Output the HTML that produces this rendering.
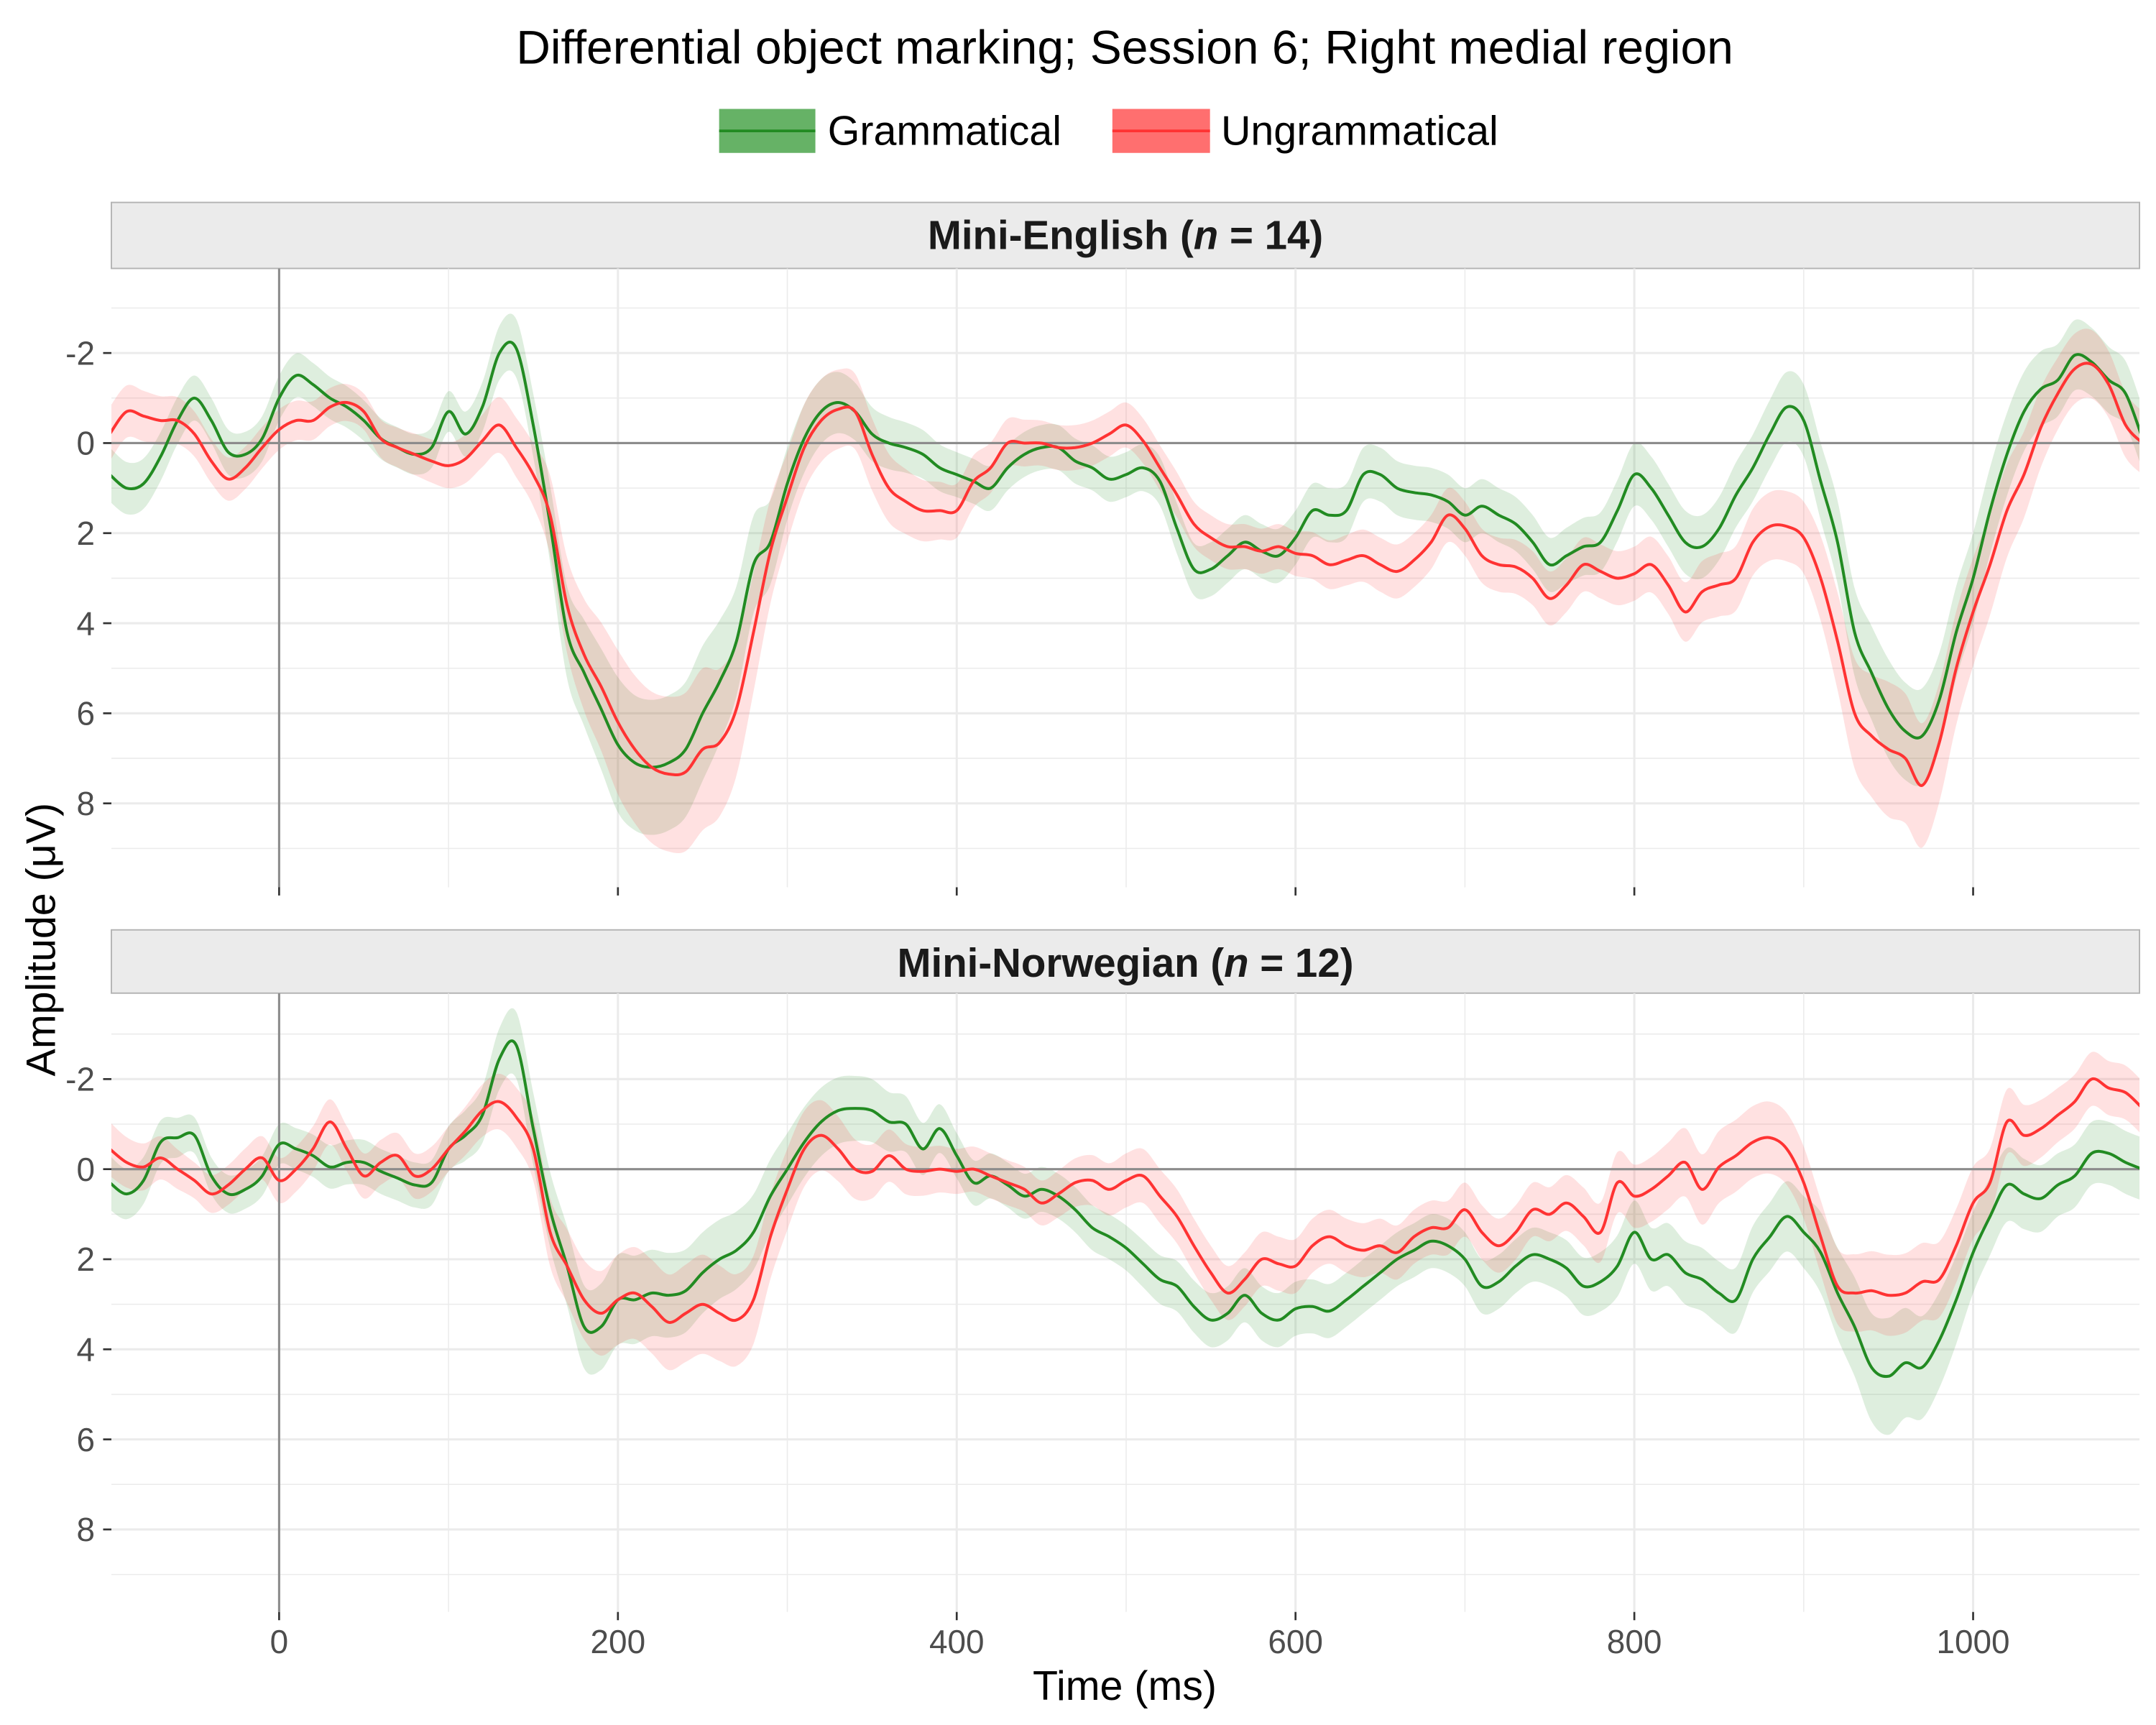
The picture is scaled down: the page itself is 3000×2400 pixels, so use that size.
<!DOCTYPE html>
<html><head><meta charset="utf-8"><style>
html,body{margin:0;padding:0;background:#fff;}
svg{display:block;font-family:"Liberation Sans",Arial,sans-serif;}
</style></head><body>
<svg id="chart" width="3000" height="2400" viewBox="0 0 1568 1254" xmlns="http://www.w3.org/2000/svg">
<text x="818" y="46" font-size="34.5" text-anchor="middle" fill="#000">Differential object marking; Session 6; Right medial region</text>
<g>
 <g>
  <rect x="523" y="79" width="70" height="32" fill="#66b266"/>
  <line x1="523" y1="95" x2="593" y2="95" stroke="#228b22" stroke-width="2"/>
  <text x="602" y="105" font-size="30" fill="#000">Grammatical</text>
 </g>
 <g>
  <rect x="809" y="79" width="71" height="32" fill="#ff6f6f"/>
  <line x1="809" y1="95" x2="880" y2="95" stroke="#ff3333" stroke-width="2"/>
  <text x="888" y="105" font-size="30" fill="#000">Ungrammatical</text>
 </g>
</g>
<g id="panels"></g>
<text x="818" y="1236" font-size="30" text-anchor="middle" fill="#000">Time (ms)</text>
<text x="0" y="0" font-size="30" text-anchor="middle" fill="#000" transform="translate(40,683) rotate(-90)">Amplitude (μV)</text>
</svg>
<script>
const times = [];
for (let t = -100; t <= 1100; t += 10) times.push(t);
const seTimes = [];
for (let t = -100; t <= 1100; t += 50) seTimes.push(t);
const xTicks = [0, 200, 400, 600, 800, 1000];
const yTicks = [-2, 0, 2, 4, 6, 8];

const engGram = [0.7,1.0,0.9,0.3,-0.5,-1.0,-0.5,0.2,0.25,-0.1,-1.0,-1.5,-1.3,-1.0,-0.8,-0.5,-0.1,0.1,0.25,0.1,-0.7,-0.2,-0.8,-2.0,-2.1,-0.4,1.8,4.2,5.1,5.9,6.7,7.1,7.2,7.1,6.8,6.0,5.3,4.4,2.7,2.2,0.9,-0.1,-0.7,-0.9,-0.7,-0.2,0,0.1,0.25,0.55,0.7,0.85,1.0,0.55,0.25,0.1,0.1,0.4,0.55,0.8,0.7,0.55,0.85,1.9,2.8,2.8,2.5,2.2,2.4,2.5,2.1,1.5,1.6,1.5,0.7,0.7,1.0,1.1,1.15,1.3,1.6,1.4,1.6,1.8,2.2,2.7,2.5,2.3,2.2,1.5,0.7,1.0,1.6,2.2,2.3,1.9,1.15,0.55,-0.2,-0.8,-0.5,0.85,2.2,4.2,5.1,5.9,6.4,6.5,5.7,4.2,3.0,1.5,0.25,-0.7,-1.2,-1.4,-1.95,-1.8,-1.4,-1.1,-0.1];
const engUngram = [-0.2,-0.7,-0.6,-0.5,-0.5,-0.2,0.4,0.8,0.55,0.1,-0.3,-0.5,-0.5,-0.8,-0.9,-0.7,-0.1,0.1,0.25,0.4,0.5,0.35,-0.05,-0.4,0.1,0.7,1.6,3.6,4.7,5.4,6.2,6.8,7.2,7.35,7.3,6.8,6.65,5.9,4.2,2.4,1.2,0.1,-0.5,-0.75,-0.7,0.25,1.0,1.3,1.5,1.5,1.5,0.85,0.55,0,0,0,0.1,0.1,0,-0.2,-0.4,-0.05,0.55,1.15,1.8,2.1,2.3,2.3,2.4,2.3,2.45,2.5,2.7,2.6,2.5,2.7,2.85,2.6,2.2,1.6,1.9,2.5,2.7,2.75,3.0,3.45,3.15,2.7,2.85,3.0,2.9,2.7,3.15,3.75,3.3,3.15,3.0,2.2,1.85,1.85,2.1,3.0,4.4,6.0,6.5,6.8,7.0,7.6,6.65,5.0,3.75,2.7,1.5,0.7,-0.35,-1.1,-1.65,-1.75,-1.3,-0.4,0];
const norGram = [0.3,0.55,0.25,-0.6,-0.7,-0.75,0.15,0.55,0.45,0.15,-0.55,-0.45,-0.3,-0.05,-0.15,-0.15,0.05,0.2,0.35,0.3,-0.45,-0.75,-1.2,-2.45,-2.75,-0.9,0.9,2.15,3.5,3.5,2.9,2.9,2.75,2.8,2.7,2.3,2.0,1.8,1.4,0.6,0,-0.6,-1.05,-1.3,-1.35,-1.3,-1.05,-1.0,-0.45,-0.9,-0.3,0.3,0.15,0.35,0.6,0.45,0.6,0.9,1.3,1.5,1.75,2.1,2.45,2.6,3.05,3.35,3.2,2.8,3.2,3.35,3.1,3.05,3.15,2.9,2.6,2.3,2.0,1.8,1.6,1.7,2.0,2.6,2.5,2.15,1.9,2.0,2.2,2.6,2.5,2.15,1.4,2.0,1.9,2.3,2.45,2.75,2.9,2.0,1.5,1.05,1.4,1.85,2.75,3.5,4.4,4.6,4.3,4.4,3.8,2.9,1.85,1.05,0.35,0.55,0.65,0.35,0.15,-0.35,-0.35,-0.15,0];
const norUngram = [-0.45,-0.15,-0.05,-0.25,0,0.25,0.55,0.35,0,-0.25,0.25,0,-0.45,-1.05,-0.45,0.15,-0.15,-0.3,0.15,0,-0.45,-0.85,-1.3,-1.5,-1.15,-0.45,1.4,2.15,2.9,3.2,2.9,2.75,3.05,3.4,3.2,3.0,3.2,3.35,2.9,1.5,0.45,-0.45,-0.75,-0.45,0,0.05,-0.3,0,0.05,0,0.05,0,0.15,0.3,0.45,0.75,0.55,0.3,0.25,0.45,0.25,0.15,0.6,1.05,1.7,2.3,2.75,2.45,2.0,2.1,2.15,1.7,1.5,1.7,1.8,1.7,1.85,1.5,1.3,1.3,0.9,1.4,1.7,1.4,0.9,1.0,0.75,1.05,1.4,0.3,0.6,0.45,0.15,-0.15,0.45,-0.05,-0.3,-0.6,-0.7,-0.45,0.3,1.5,2.6,2.75,2.7,2.8,2.75,2.5,2.45,1.7,0.75,0.3,-1.05,-0.75,-0.9,-1.2,-1.5,-2.0,-1.8,-1.7,-1.35];

const engGramSe = [0.6,0.5,0.5,0.45,0.45,0.7,1.5,1.5,0.8,0.6,0.5,0.5,0.5,0.6,0.6,0.6,0.6,0.6,0.7,0.7,0.8,1.1,1.0,0.8,0.7];
const engUngramSe = [0.6,0.5,0.45,0.4,0.5,0.7,1.6,1.8,1.0,0.8,0.6,0.5,0.5,0.5,0.5,0.6,0.6,0.6,0.6,0.7,0.8,1.5,1.2,0.8,0.7];
const norGramSe = [0.6,0.4,0.45,0.5,0.5,0.8,1.0,0.9,0.8,0.7,0.5,0.5,0.5,0.6,0.6,0.6,0.6,0.6,0.7,0.7,0.8,1.3,0.9,0.7,0.7];
const norUngramSe = [0.6,0.4,0.5,0.5,0.5,0.7,1.0,1.1,0.9,0.6,0.5,0.5,0.6,0.6,0.6,0.6,0.6,0.6,0.7,0.8,0.8,0.9,0.8,0.6,0.6];

const NS = "http://www.w3.org/2000/svg";
const X0 = 81, X1 = 1556;
const xScale = t => 203 + (t - 0) * 1.232;
function mk(tag, attrs, parent) {
  const e = document.createElementNS(NS, tag);
  for (const k in attrs) e.setAttribute(k, attrs[k]);
  parent.appendChild(e);
  return e;
}
function seAt(se, t) {
  const i = Math.min(Math.floor((t + 100) / 50), se.length - 2);
  const f = (t - seTimes[i]) / 50;
  return se[i] * (1 - f) + se[i + 1] * f;
}
function smooth(p) {
  let d = "";
  for (let i = 0; i < p.length - 1; i++) {
    const p0 = p[Math.max(0, i - 1)], p1 = p[i], p2 = p[i + 1], p3 = p[Math.min(p.length - 1, i + 2)];
    const c1x = p1[0] + (p2[0] - p0[0]) / 6, c1y = p1[1] + (p2[1] - p0[1]) / 6;
    const c2x = p2[0] - (p3[0] - p1[0]) / 6, c2y = p2[1] - (p3[1] - p1[1]) / 6;
    d += " C" + c1x.toFixed(1) + "," + c1y.toFixed(1) + " " + c2x.toFixed(1) + "," + c2y.toFixed(1) + " " + p2[0].toFixed(1) + "," + p2[1].toFixed(1);
  }
  return d;
}
const root = document.getElementById("panels");
function panel(id, title, stripTop, top, bottom, zeroY, g, gse, r, rse, showX) {
  const yScale = v => zeroY + v * 32.75;
  const grp = mk("g", {}, root);
  
  
  const strip = mk("rect", {x: X0, y: stripTop, width: X1 - X0, height: top - stripTop, fill: "#ebebeb", stroke: "#b3b3b3", "stroke-width": 1}, grp);
  
  
  const st = mk("text", {x: (X0 + X1) / 2, y: stripTop + 34, "font-size": 29.5, "font-weight": "bold", "text-anchor": "middle", fill: "#1a1a1a"}, grp);
  
  
  st.innerHTML = title;
  const cid = "clip-" + id;
  const cp = mk("clipPath", {id: cid}, grp);
  mk("rect", {x: X0, y: top, width: X1 - X0, height: bottom - top}, cp);
  const body = mk("g", {"clip-path": "url(#" + cid + ")"}, grp);
  for (let v = -3; v <= 9; v++) {
    const y = yScale(v);
    const gl = mk("line", {x1: X0, x2: X1, y1: y, y2: y, stroke: "#ebebeb", "stroke-width": v % 2 === 0 ? 1.6 : 0.8}, body);
    
    
  }
  for (let t = -100; t <= 1100; t += 100) {
    const x = xScale(t);
    const gl = mk("line", {x1: x, x2: x, y1: top, y2: bottom, stroke: "#ebebeb", "stroke-width": t % 200 === 0 ? 1.6 : 0.8}, body);
    
    
  }
  const series = [[g, gse, "#228b22", "rgba(34,139,34,0.15)", "grammatical"], [r, rse, "#ff3333", "rgba(255,51,51,0.15)", "ungrammatical"]];
  series.forEach(([vals, se, col, fill, nm]) => {
    const up = times.map((t, i) => [xScale(t), yScale(vals[i] - seAt(se, t))]);
    const dn = times.map((t, i) => [xScale(t), yScale(vals[i] + seAt(se, t))]).reverse();
    const d = "M" + up[0][0].toFixed(1) + "," + up[0][1].toFixed(1) + smooth(up) +
      " L" + dn[0][0].toFixed(1) + "," + dn[0][1].toFixed(1) + smooth(dn) + " Z";
    const rib = mk("path", {d: d, fill: fill, stroke: "none"}, body);
    
    
  });
  const zl = mk("line", {x1: X0, x2: X1, y1: yScale(0), y2: yScale(0), stroke: "#8c8c8c", "stroke-width": 1.6}, body);
  
  
  const vl = mk("line", {x1: xScale(0), x2: xScale(0), y1: top, y2: bottom, stroke: "#8c8c8c", "stroke-width": 1.6}, body);
  
  
  series.forEach(([vals, se, col, fill, nm]) => {
    const pts = times.map((t, i) => [xScale(t), yScale(vals[i])]);
    const d = "M" + pts[0][0].toFixed(1) + "," + pts[0][1].toFixed(1) + smooth(pts);
    const ln = mk("path", {d: d, fill: "none", stroke: col, "stroke-width": 2.1, "stroke-linejoin": "round"}, body);
    
    
  });
  yTicks.forEach(v => {
    const y = yScale(v);
    mk("line", {x1: X0 - 6, x2: X0, y1: y, y2: y, stroke: "#333", "stroke-width": 1.4}, grp);
    const tl = mk("text", {x: X0 - 12, y: y + 8.5, "font-size": 24, "text-anchor": "end", fill: "#4d4d4d"}, grp);
    
    
    tl.textContent = v;
  });
  xTicks.forEach(t => {
    const x = xScale(t);
    mk("line", {x1: x, x2: x, y1: bottom, y2: bottom + 6, stroke: "#333", "stroke-width": 1.4}, grp);
    if (showX) {
      const tl = mk("text", {x: x, y: bottom + 30, "font-size": 24, "text-anchor": "middle", fill: "#4d4d4d"}, grp);
      
      
      tl.textContent = t;
    }
  });
}
panel("panel-mini-english", "Mini-English (<tspan font-style='italic'>n</tspan> = 14)", 147, 195, 645, 322, engGram, engGramSe, engUngram, engUngramSe, false);
panel("panel-mini-norwegian", "Mini-Norwegian (<tspan font-style='italic'>n</tspan> = 12)", 676, 722, 1172, 850, norGram, norGramSe, norUngram, norUngramSe, true);
</script>
</body></html>
